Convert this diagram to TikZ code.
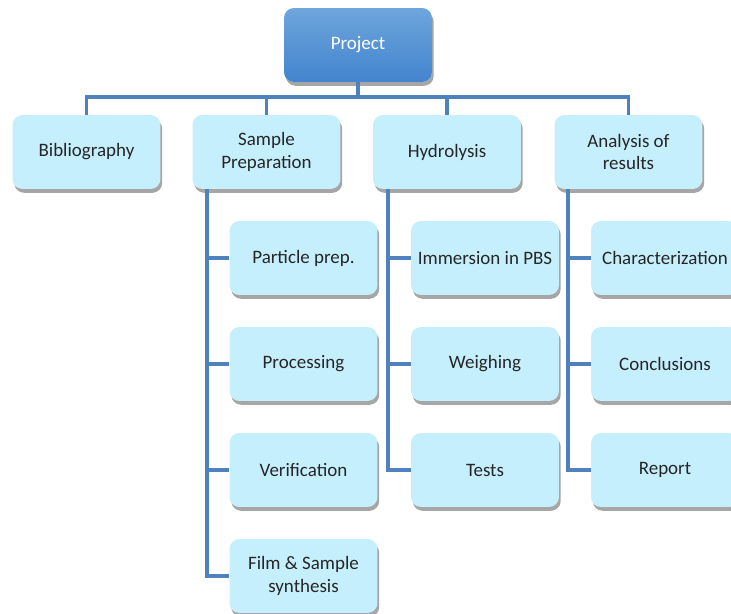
\documentclass[tikz,border=0pt]{standalone}
\usepackage{fontspec}
\setmainfont{Carlito}
\usetikzlibrary{shadows}
\definecolor{boxfill}{HTML}{C6EFFD}
\definecolor{linkblue}{HTML}{4F81BD}
\definecolor{topA}{HTML}{6EA6DC}
\definecolor{topB}{HTML}{4384CE}

\begin{document}
\begin{tikzpicture}[x=0.02cm, y=-0.02cm, font=\fontsize{10.8}{12.8}\selectfont,
  task/.style={fill=boxfill, rounded corners=0.2cm, minimum width=2.96cm, minimum height=1.48cm,
    align=center, text=black!85, drop shadow={shadow xshift=1pt, shadow yshift=-2.2pt, fill=black, opacity=0.35}},
  link/.style={draw=linkblue, line width=2pt}]
\useasboundingbox (0,0) rectangle (731,614);
\clip (0,0) rectangle (731,614);

% top
\node[task, top color=topA, bottom color=topB, text=white] (proj) at (358,45) {Project};

% work packages
\node[task] (bib) at (86.5,152) {Bibliography};
\node[task] (prep) at (266.5,152) {Sample\\Preparation};
\node[task] (hyd) at (447,152) {Hydrolysis};
\node[task] (res) at (628.5,152) {Analysis of\\results};

\coordinate (bar) at (358,97);
\draw[link] (proj.south) -- (bar);
\draw[link] (bib.north) -- (bib.north |- bar) -- (res.north |- bar) -- (res.north);
\foreach \p in {prep,hyd} \draw[link] (\p.north) -- (\p.north |- bar);

% sub tasks
\coordinate (prepsp) at (207,189);
\coordinate (hydsp) at (388,189);
\coordinate (ressp) at (568,189);
\foreach \t [count=\i] in {Particle prep., Processing, Verification, {Film \& Sample\\synthesis}} {
	\node[task] (prep\i) at (303.5,152+106*\i) {\t};
	\draw[link] (prepsp |- prep\i.west) -- (prep\i.west);
}
\foreach \t [count=\i] in {Immersion in PBS, Weighing, Tests} {
	\node[task] (hyd\i) at (485,152+106*\i) {\t};
	\draw[link] (hydsp |- hyd\i.west) -- (hyd\i.west);
}
\foreach \t [count=\i] in {Characterization, Conclusions, Report} {
	\node[task] (res\i) at (665,152+106*\i) {\t};
	\draw[link] (ressp |- res\i.west) -- (res\i.west);
}
\draw[link] (prepsp) |- (prep4.west);
\draw[link] (hydsp) |- (hyd3.west);
\draw[link] (ressp) |- (res3.west);
\end{tikzpicture}
\end{document}
